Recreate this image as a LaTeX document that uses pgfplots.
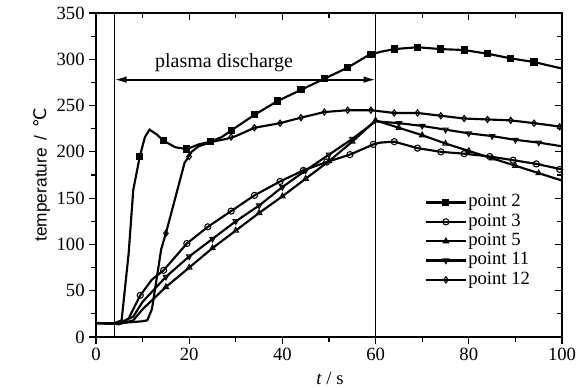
\documentclass[border=0pt]{standalone}
\usepackage{pgfplots}
\pgfplotsset{compat=1.18}
\usetikzlibrary{arrows.meta}
\usepackage{fontspec}
\setmainfont{Liberation Serif}
\newfontfamily\lsans{Liberation Sans}
\newfontfamily\dejavu{DejaVu Sans}
\begin{document}
\begin{tikzpicture}
\pgfplotsset{
  myaxis/.style={scale only axis, width=349.5pt, height=243pt,
    xmin=0, xmax=100, ymin=0, ymax=350,
    xtick={0,20,...,100}, minor xtick={10,30,...,90},
    ytick={0,50,...,350}, minor ytick={25,75,...,325},
    major tick length=5pt, minor tick length=3.5pt,
    tick style={black, line width=0.9pt},
    axis line style={black, line width=1.1pt}},
  lgd/.style={legend image code/.code={\draw[black,line width=1.6pt](0pt,0pt)--(30pt,0pt); \draw[##1, line width=0.8pt] plot coordinates {(15pt,0pt)};}}
}
\begin{axis}[myaxis,
  tick align=outside, xtick pos=left, ytick pos=left,
  /pgf/number format/assume math mode=true,
  ticklabel style={font=\fontsize{14}{16}\selectfont},
  xlabel={\textit{t} / s},
  xlabel style={at={(axis description cs:0.502,-0.127)}, anchor=center, font=\fontsize{14}{16}\selectfont},
  ylabel={\lsans temperature\, /\, {\dejavu ℃}},
  ylabel style={at={(axis description cs:-0.116,0.5)}, anchor=center, font=\fontsize{13}{15}\selectfont},
  legend style={draw=none, fill=none, at={(axis cs:70.5,156)}, anchor=north west,
    font=\fontsize{14}{14}\selectfont, row sep=0pt, inner sep=0pt,
    nodes={inner sep=1pt, text height=9.5pt, text depth=3pt}},
  legend cell align=left,
  every axis plot/.append style={black, line width=1.6pt},
  mark size=2.3pt,
]
% point 2 line
\addplot[no marks, forget plot] coordinates {
(0,15) (4,15) (5.5,18) (7,90) (8,159) (9.4,195) (10.5,216) (11.5,224) (13,219) (14.5,212) (17,205) (19.5,203) (22,208) (24.5,211) (27,216) (29,223) (34,240) (39,255) (44,267) (49,279) (54,291) (58,303) (59,305) (61,308) (64,311) (69,313) (74,311) (79,310) (84,306) (89,301) (94,297) (100,290)};
% point 3 line
\addplot[no marks, forget plot] coordinates {
(0,15) (5,14) (7,20) (9.5,45) (12,62) (14.5,72) (19.5,101) (24,119) (29,136) (34,153) (39.5,168) (44.5,180) (49.5,189) (54.5,197) (59.5,208) (61,210) (64,211) (69,204) (74,200) (79,198) (84.5,195) (89.5,191) (94.5,187) (100,181)};
% point 5 line
\addplot[no marks, forget plot] coordinates {
(0,15) (5,14) (8,18) (10,30) (15,54) (20,75) (25,96) (30,115) (35,134) (40,152) (45,171) (50,190) (55,211) (60,234) (65,226) (70,218) (75,209) (80,201) (85,193) (90,185) (95,177) (100,169)};
% point 11 line
\addplot[no marks, forget plot] coordinates {
(0,15) (5,15) (8,22) (10,38) (15,65) (20,87) (25,106) (30,125) (35,142) (40,162) (45,180) (50,197) (55,214) (60,233) (65,231) (70,228) (75,224) (80,220) (85,217) (90,213) (95,210) (100,206)};
% point 12 line
\addplot[no marks, forget plot] coordinates {
(0,15) (5,15) (10,17) (11,18) (12,30) (14,95) (15,112) (17,150) (19,188) (20.5,200) (22,206) (25,211) (28,214) (30,217) (34,226) (39.5,231) (44,237) (49,243) (54,245) (59,245) (64,242) (69,242) (74,239) (79,236) (84,235) (89,234) (94,231) (100,227)};
% marks
\addplot[only marks, lgd, mark=square*, mark options={fill=black, line width=0.8pt}] coordinates {
(9.4,195) (14.5,212) (19.5,203) (24.5,211) (29,223) (34,240) (39,255) (44,267) (49,279) (54,291) (59,305) (64,311) (69,313) (74,311) (79,310) (84,306) (89,301) (94,297)};
\addlegendentry{point 2}
\addplot[only marks, lgd, mark=o, mark options={fill=white, line width=0.8pt}] coordinates {
(9.5,45) (14.5,72) (19.5,101) (24,119) (29,136) (34,153) (39.5,168) (44.5,180) (49.5,189) (54.5,197) (59.5,208) (64,211) (69,204) (74,200) (79,198) (84.5,195) (89.5,191) (94.5,187) (99.5,181)};
\addlegendentry{point 3}
\addplot[only marks, lgd, mark=triangle, mark options={fill=white, line width=0.8pt}] coordinates {
(15,54) (20,75) (25,96) (30,115) (35,134) (40,152) (45,171) (50,190) (55,211) (60,234) (65,226) (70,218) (75,209) (80,201) (85,193) (90,185) (95,177)};
\addlegendentry{point 5}
\addplot[only marks, lgd, mark=triangle, mark options={rotate=180, fill=white, line width=0.8pt}] coordinates {
(15,65) (20,87) (25,106) (30,125) (35,142) (40,162) (45,180) (50,197) (55,214) (65,231) (70,228) (75,224) (80,220) (85,217) (90,213) (95,210)};
\addlegendentry{point 11}
\addplot[only marks, lgd, mark=diamond, mark options={fill=white, line width=0.8pt}] coordinates {
(15,112) (20,195) (29,216) (34,226) (39.5,231) (44,237) (49,243) (54,245) (59,245) (64,242) (69,242) (74,239) (79,236) (84,235) (89,234) (94,231) (99.5,227)};
\addlegendentry{point 12}
% annotations
\draw[line width=0.9pt] (axis cs:4,0) -- (axis cs:4,350);
\draw[line width=0.9pt] (axis cs:60,0) -- (axis cs:60,350);
\draw[{Latex[length=9pt,width=5pt]}-{Latex[length=9pt,width=5pt]}, line width=1.3pt] (axis cs:4,278) -- (axis cs:60,278);
\node[font=\fontsize{15}{17}\selectfont] at (axis cs:27.5,296) {plasma discharge};
\end{axis}
\begin{axis}[myaxis, tick align=inside, xtick pos=right, ytick pos=right,
  xticklabels={}, yticklabels={}, axis line style={draw=none}]
\end{axis}
\pgfresetboundingbox
\path (-72pt,-38.25pt) rectangle (367.5pt,252.75pt);
\end{tikzpicture}
\end{document}
